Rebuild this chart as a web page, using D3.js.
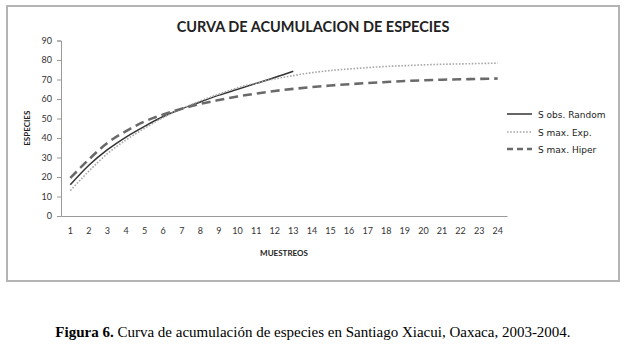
<!DOCTYPE html>
<html>
<head>
<meta charset="utf-8">
<script src="https://cdn.jsdelivr.net/npm/d3@7"></script>
<style>
  html, body { margin: 0; padding: 0; background: #fff; }
  svg { display: block; }
</style>
</head>
<body>
<svg id="chart" width="627" height="349"></svg>
<script>
// ---- data ----
const muestreos = d3.range(1, 25);               // 1..24
const yTicks = [0, 10, 20, 30, 40, 50, 60, 70, 80, 90];
const seriesNames = ["S obs. Random", "S max. Exp.", "S max. Hiper"];
const sObsRandom = [16, 26, 34, 40.5, 46, 51, 55, 58.5, 62, 65, 68, 71, 74.2];
const sMaxExp = [13, 23, 32, 39, 45, 50.5, 55, 59, 62.5, 65.7, 68.2, 70.3, 72, 73.5, 74.6, 75.4, 76.1, 76.7, 77.1, 77.5, 77.8, 78.0, 78.2, 78.4];
const sMaxHiper = [19.5, 29, 37.5, 43.5, 48.5, 52, 55, 57.5, 59.5, 61.3, 62.8, 64.1, 65.2, 66.1, 66.9, 67.6, 68.2, 68.7, 69.2, 69.6, 69.9, 70.1, 70.3, 70.5];
const chartTitle = "CURVA DE ACUMULACION DE ESPECIES";
const xTitle = "MUESTREOS";
const yTitle = "ESPECIES";

const svg = d3.select("#chart");

// frame
svg.append("rect").attr("x", 7).attr("y", 6).attr("width", 612).attr("height", 275)
  .attr("fill", "#fff").attr("stroke", "#b4b4b4").attr("stroke-width", 2);

const pLeft = 61, pRight = 507, pTop = 40.5, pBottom = 216;
const x = d3.scaleBand().domain(muestreos).range([pLeft, pRight]);
const xc = d => x(d) + x.bandwidth() / 2;
const y = d3.scaleLinear().domain([0, 90]).range([pBottom, pTop]);

// title
svg.append("text").attr("x", 313).attr("y", 32).attr("text-anchor", "middle")
  .attr("font-family", "Lato, 'Open Sans', sans-serif").attr("font-weight", "bold")
  .attr("font-size", 14.5).attr("fill", "#222").text(chartTitle);

// y axis
const yAxis = svg.append("g").attr("transform", `translate(${pLeft},0)`)
  .call(d3.axisLeft(y).tickValues(yTicks).tickSize(4).tickPadding(5));
yAxis.select(".domain").attr("stroke", "#9a9a9a");
yAxis.selectAll(".tick line").attr("stroke", "#9a9a9a");
yAxis.selectAll(".tick text").attr("font-family", "Lato, sans-serif").attr("font-size", 9).attr("fill", "#333");

// x axis
const xAxis = svg.append("g").attr("transform", `translate(0,${pBottom})`)
  .call(d3.axisBottom(x).tickSize(0).tickPadding(12));
xAxis.select(".domain").attr("stroke", "#9a9a9a");
xAxis.selectAll(".tick text").attr("font-family", "Lato, sans-serif").attr("font-size", 9).attr("fill", "#333");

// axis titles
svg.append("text").attr("x", (pLeft + pRight) / 2).attr("y", 256).attr("text-anchor", "middle")
  .attr("font-family", "Lato, sans-serif").attr("font-weight", "bold").attr("font-size", 8).attr("fill", "#222")
  .text(xTitle);
svg.append("text").attr("transform", `translate(30,${(pTop + pBottom) / 2}) rotate(-90)`)
  .attr("text-anchor", "middle")
  .attr("font-family", "Lato, sans-serif").attr("font-weight", "bold").attr("font-size", 8).attr("fill", "#222")
  .text(yTitle);

// lines
const styles = [
  { data: sObsRandom, stroke: "#333333", width: 1.5, dash: null },
  { data: sMaxExp, stroke: "#a8a8a8", width: 1.6, dash: "1.6,1.6" },
  { data: sMaxHiper, stroke: "#6a6a6a", width: 2.6, dash: "9,5" }
];
const line = d3.line().x((d, i) => xc(muestreos[i])).y(d => y(d)).curve(d3.curveMonotoneX);
styles.forEach(s => {
  svg.append("path").datum(s.data).attr("d", line).attr("fill", "none")
    .attr("stroke", s.stroke).attr("stroke-width", s.width)
    .attr("stroke-dasharray", s.dash);
});

// legend
const legendY = [114, 132, 149];
seriesNames.forEach((name, i) => {
  const g = svg.append("g").attr("transform", `translate(507,${legendY[i]})`);
  g.append("line").attr("x1", 0).attr("x2", 25).attr("y1", 0).attr("y2", 0)
    .attr("stroke", styles[i].stroke).attr("stroke-width", styles[i].width)
    .attr("stroke-dasharray", i === 2 ? "6,4" : styles[i].dash);
  g.append("text").attr("x", 31).attr("y", 3.5)
    .attr("font-family", "'DejaVu Sans', sans-serif").attr("font-size", 9).attr("fill", "#222")
    .text(name);
});

// caption
const cap = svg.append("text").attr("x", 313).attr("y", 337).attr("text-anchor", "middle")
  .attr("font-family", "'Liberation Serif', 'Times New Roman', serif").attr("font-size", 15).attr("fill", "#000");
cap.append("tspan").attr("font-weight", "bold").text("Figura 6.");
cap.append("tspan").text(" Curva de acumulación de especies en Santiago Xiacui, Oaxaca, 2003-2004.");
</script>
</body>
</html>
